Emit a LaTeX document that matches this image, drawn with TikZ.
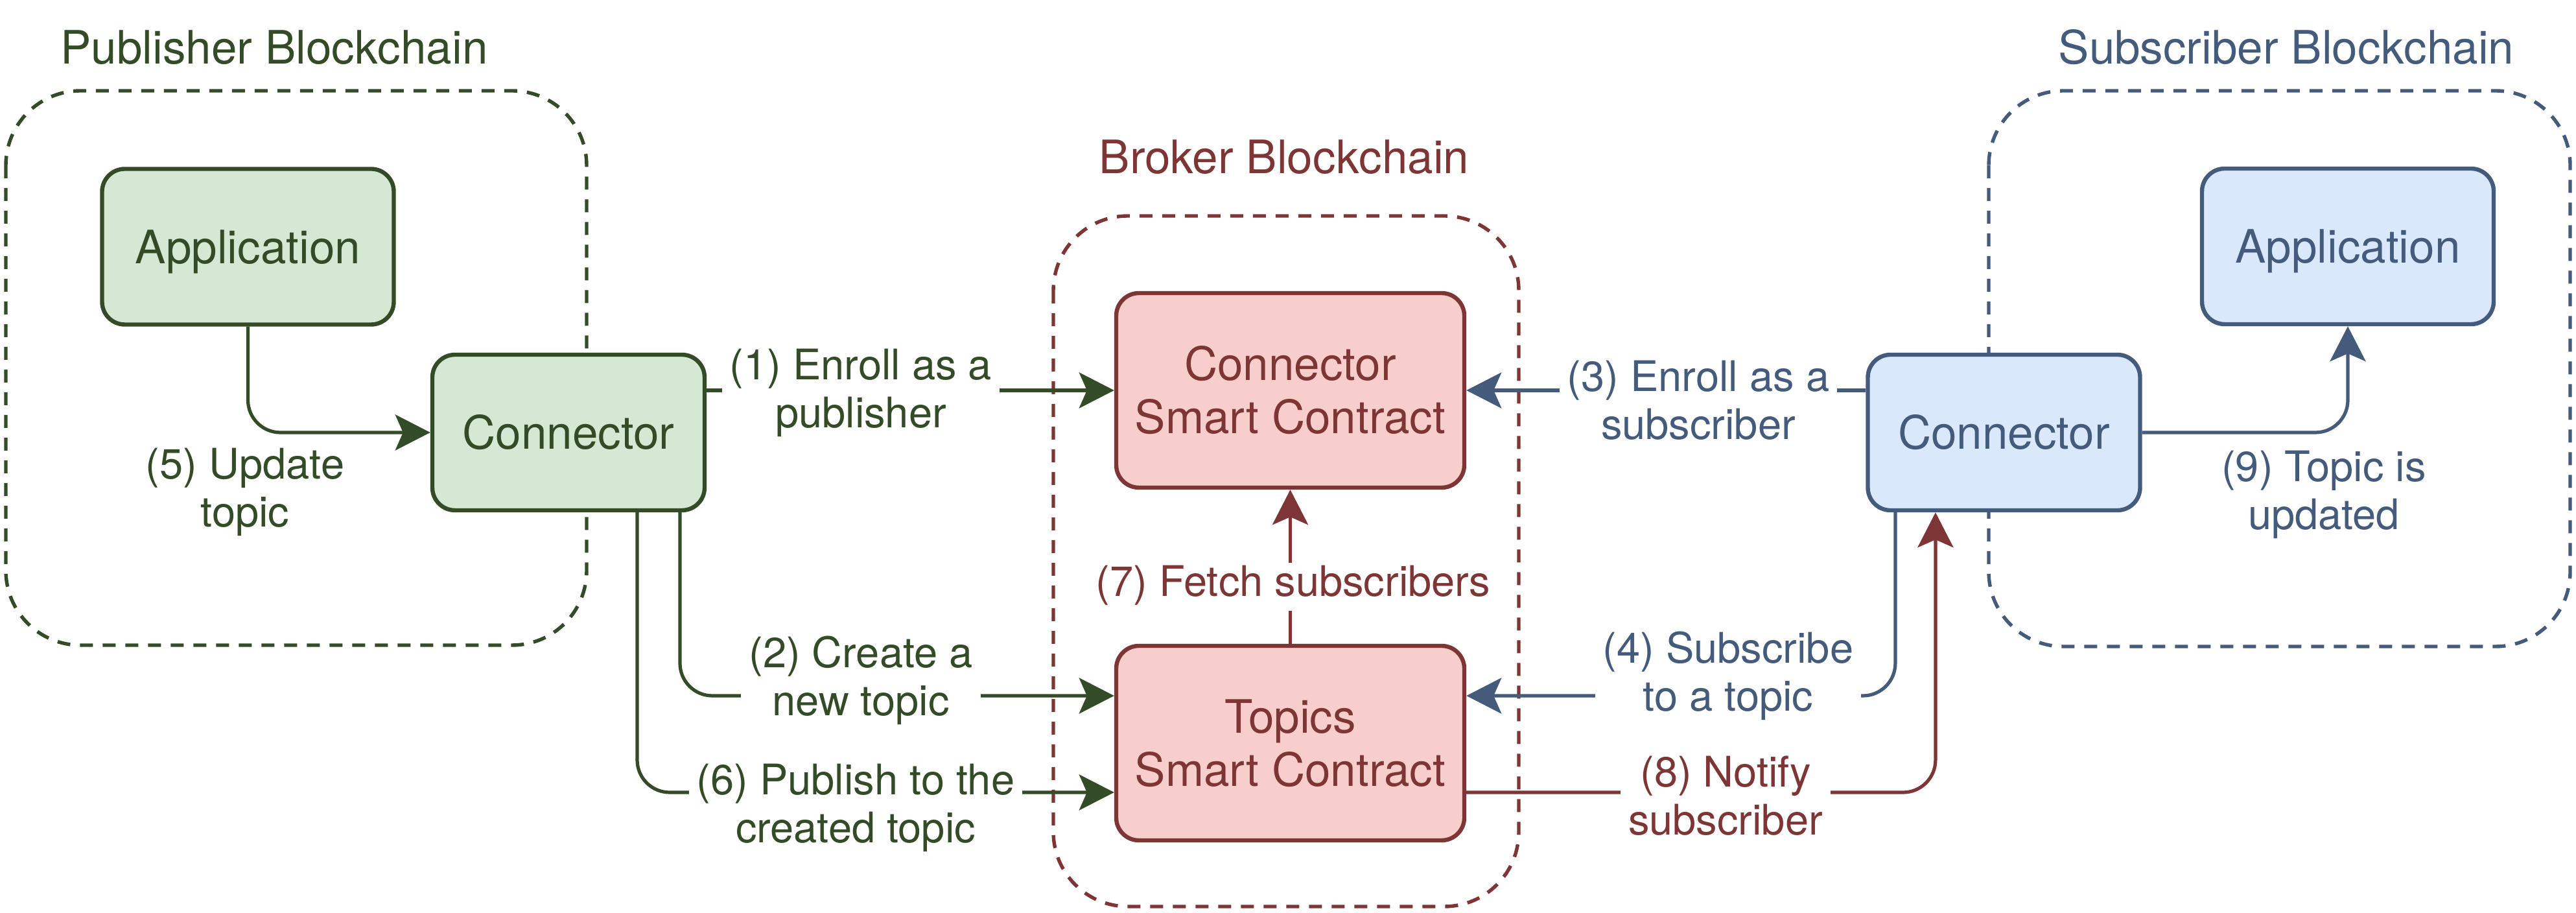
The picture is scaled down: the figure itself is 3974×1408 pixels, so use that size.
\documentclass[tikz,border=0pt]{standalone}
\usepackage{fontspec}
\setmainfont{TeX Gyre Heros}
\usetikzlibrary{arrows.meta,calc}
\definecolor{gdk}{HTML}{344B27}
\definecolor{gfill}{HTML}{D5E8D4}
\definecolor{rdk}{HTML}{7E3535}
\definecolor{rfill}{HTML}{F8CECC}
\definecolor{bdk}{HTML}{445B7C}
\definecolor{bfill}{HTML}{DAE8FC}
\tikzset{
  box/.style={draw, line width=1.6pt, rounded corners=8.75pt, align=center,
    font=\fontsize{17.75}{20.5}\selectfont, inner sep=0pt},
  appbox/.style={box, minimum width=112.5pt, minimum height=60pt, text depth=0pt},
  connbox/.style={box, minimum width=105pt, minimum height=60pt},
  scbox/.style={box, minimum width=134.25pt, minimum height=75pt},
  cont/.style={dash pattern=on 5pt off 3.75pt, line width=1.35pt, rounded corners=28.75pt},
  ttl/.style={anchor=base, font=\fontsize{17.75}{20.5}\selectfont, inner sep=0pt},
  lbl/.style={fill=white, inner xsep=3pt, inner ysep=0pt, align=center,
    font=\fontsize{16.25}{18.5}\selectfont},
  arr/.style={line width=1.3pt, rounded corners=12.5pt,
    -{Stealth[length=13.5pt,width=13.75pt,inset=3pt]}},
  green/.style={draw=gdk, fill=gfill, text=gdk},
  red/.style={draw=rdk, fill=rfill, text=rdk},
  blue/.style={draw=bdk, fill=bfill, text=bdk}
}
\begin{document}
\begin{tikzpicture}[x=0.25pt,y=-0.25pt]
\useasboundingbox (0,0) rectangle (3974,1408);

% containers
\draw[cont, draw=gdk] (9,140) rectangle (905,995);
\draw[cont, draw=rdk] (1625,333) rectangle (2343,1398);
\draw[cont, draw=bdk] (3068,140) rectangle (3965,997);

% titles
\node[ttl, text=gdk] (tpub) at (423,99) {Publisher Blockchain};
\node[ttl, text=rdk] (tbrk) at (1981,268) {Broker Blockchain};
\node[ttl, text=bdk] (tsub) at (3527,99) {Subscriber Blockchain};

% boxes
\node[appbox, green] (papp) at (382.5,380.5) {Application};
\node[connbox, green] (pconn) at (877,667) {Connector};
\node[scbox, red] (csc) at (1990.5,602) {Connector\\Smart Contract};
\node[scbox, red] (topics) at (1990.5,1146) {Topics\\Smart Contract};
\node[connbox, blue] (sconn) at (3091.5,667) {Connector};
\node[appbox, blue] (sapp) at (3622,380) {Application};

% connectors
\draw[arr, gdk] (papp.south) |- (pconn.west);
\draw[arr, gdk] (pconn.east |- csc.west) -- (csc.west);
\draw[arr, gdk] ([xshift=43pt]pconn.south) |- ([yshift=18.25pt]topics.west);
\draw[arr, gdk] ([xshift=26.5pt]pconn.south) |- ([yshift=-19pt]topics.west);
\draw[arr, rdk] (topics.north) -- (csc.south);
\draw[arr, bdk] (sconn.west |- csc.east) -- (csc.east);
\draw[arr, bdk] ([xshift=-41.9pt]sconn.south) |- ([yshift=18.25pt]topics.east);
\draw[arr, rdk] ([yshift=-19pt]topics.east) -| ([xshift=-26.4pt]sconn.south);
\draw[arr, bdk] (sconn.east) -| (sapp.south);

% labels
\node[lbl, text=gdk] (l1) at (1328,608) {\strut(1) Enroll as a\\\strut publisher};
\node[lbl, text=gdk] (l2) at (1328,1052) {\strut(2) Create a\\\strut new topic};
\node[lbl, text=gdk] (l6) at (1320,1248) {\strut(6) Publish to the\\\strut created topic};
\node[lbl, text=gdk] (l5) at (378,761) {\strut(5) Update\\\strut topic};
\node[lbl, text=rdk] (l7) at (1995,905) {\strut(7) Fetch subscribers};
\node[lbl, text=bdk] (l3) at (2620,626) {\strut(3) Enroll as a\\\strut subscriber};
\node[lbl, text=bdk] (l4) at (2666,1045) {\strut(4) Subscribe\\\strut to a topic};
\node[lbl, text=rdk] (l8) at (2662,1236) {\strut(8) Notify\\\strut subscriber};
\node[lbl, text=bdk] (l9) at (3585,765) {\strut(9) Topic is\\\strut updated};
\end{tikzpicture}
\end{document}
